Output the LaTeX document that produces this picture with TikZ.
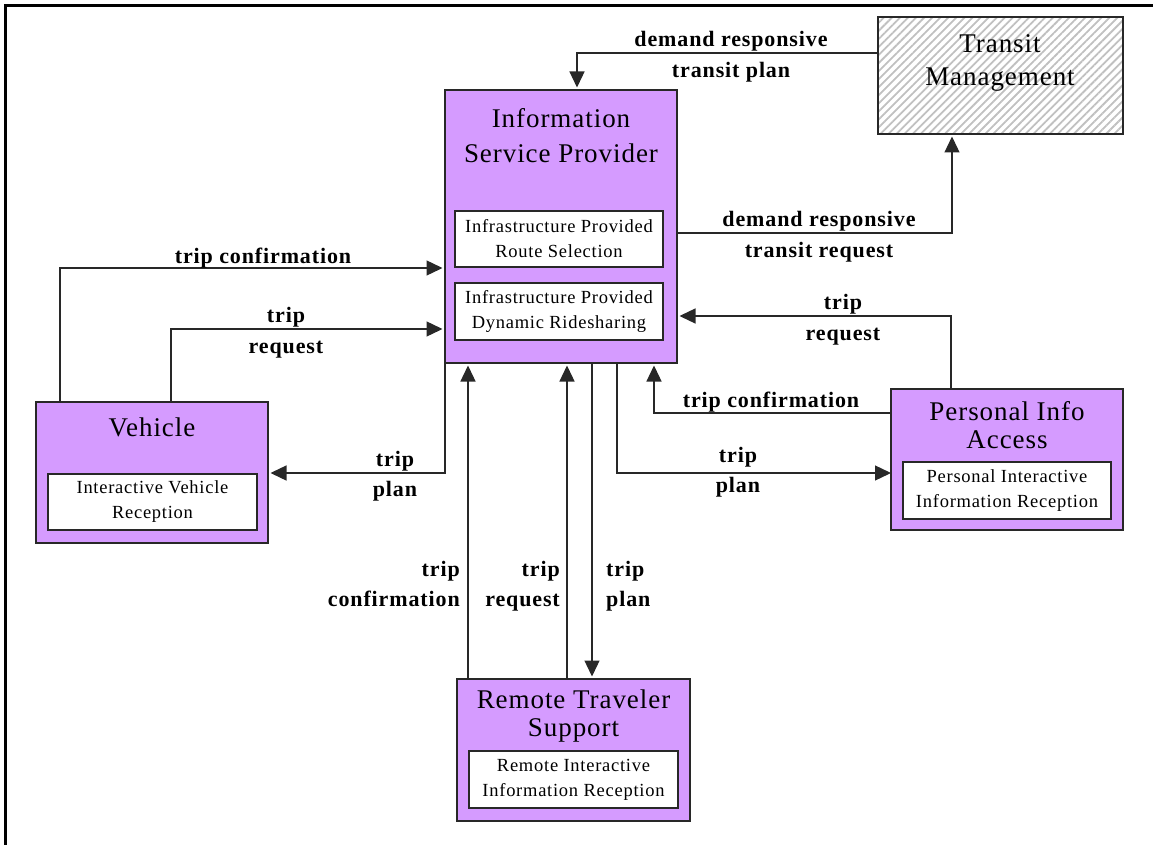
\documentclass[tikz,border=0pt]{standalone}
\usepackage{fontspec}
\setmainfont{Liberation Serif}
\usetikzlibrary{arrows.meta,patterns.meta}

\definecolor{boxfill}{RGB}{213,155,255}
\definecolor{edge}{RGB}{40,40,40}
\definecolor{hatch}{RGB}{192,192,192}

\tikzset{
  element/.style={draw=edge, line width=1.6pt, fill=boxfill, rectangle,
    anchor=north west, inner sep=0pt, outer sep=0pt},
  extbox/.style={draw=edge, line width=1.6pt, rectangle, anchor=north west,
    inner sep=0pt, outer sep=0pt,
    pattern={Lines[angle=45,distance=5.7pt,line width=1.8pt]}, pattern color=hatch},
  title/.style={align=center, inner sep=0pt},
  titlefont/.style={font=\fontsize{27}{#1}\selectfont\addfontfeatures{LetterSpace=3.5}},
  pspec/.style={draw=edge, line width=1.4pt, fill=white, rectangle,
    anchor=north west, inner sep=0pt, outer sep=0pt, align=center,
    font=\fontsize{18.5}{25}\selectfont\addfontfeatures{LetterSpace=4}},
  flow/.style={draw=edge, line width=1.3pt,
    -{Triangle[length=16pt,width=15pt]}, shorten >=2.5pt},
  flowlabel/.style={align=center, inner sep=0pt,
    font=\bfseries\fontsize{22}{30.5}\selectfont\addfontfeatures{LetterSpace=4}},
}

\begin{document}
\begin{tikzpicture}[x=1pt,y=-1pt]
\useasboundingbox (0,0) rectangle (1153,845);

% page frame (top and left edges)
\draw[line width=3pt] (1153,5.5) -- (5.5,5.5) -- (5.5,845);

% terminators
\node[extbox, minimum width=245pt, minimum height=117pt] (tm) at (878,17) {};
\node[title, titlefont=33] (tmtitle) at (1000,62.5) {Transit\\Management};

% subsystems
\node[element, minimum width=232pt, minimum height=273pt] (isp) at (445,90) {};
\node[title, titlefont=35] (isptitle) at (561,135.2) {Information\\Service Provider};
\node[pspec, minimum width=208pt, minimum height=56pt] (isp1) at (455,211)
  {Infrastructure Provided\\Route Selection};
\node[pspec, minimum width=208pt, minimum height=57pt] (isp2) at (455,283)
  {Infrastructure Provided\\Dynamic Ridesharing};

\node[element, minimum width=232pt, minimum height=141pt] (veh) at (36,402) {};
\node[title, titlefont=35] (vehtitle) at (152,427.8) {Vehicle};
\node[pspec, minimum width=209pt, minimum height=56pt] (veh1) at (48,474)
  {Interactive Vehicle\\Reception};

\node[element, minimum width=232pt, minimum height=141pt] (pia) at (891,389) {};
\node[title, titlefont=28] (piatitle) at (1007,424.8) {Personal Info\\Access};
\node[pspec, minimum width=208pt, minimum height=57pt] (pia1) at (903,462)
  {Personal Interactive\\Information Reception};

\node[element, minimum width=233pt, minimum height=142pt] (rts) at (457,679) {};
\node[title, titlefont=28] (rtstitle) at (573.5,715.8) {Remote Traveler\\Support};
\node[pspec, minimum width=209pt, minimum height=57pt] (rts1) at (469,751)
  {Remote Interactive\\Information Reception};

% flows
\draw[flow] ([yshift=-36pt]tm.north west) -| ([xshift=132pt]isp.north west);
\draw[flow] ([yshift=-143pt]isp.north east) -| ([xshift=74pt]tm.south west);
\draw[flow] ([xshift=24pt]veh.north west) |- ([yshift=-178pt]isp.north west);
\draw[flow] ([xshift=135pt]veh.north west) |- ([yshift=-239pt]isp.north west);
\draw[flow] (isp.south west) |- ([yshift=-71pt]veh.north east);
\draw[flow] ([xshift=11pt]rts.north west) -- ([xshift=23pt]isp.south west);
\draw[flow] ([xshift=110pt]rts.north west) -- ([xshift=122pt]isp.south west);
\draw[flow] ([xshift=147pt]isp.south west) -- ([xshift=135pt]rts.north west);
\draw[flow, shorten >=0pt] ([xshift=172pt]isp.south west) |- ([yshift=-84pt]pia.north west);
\draw[flow] ([yshift=-24pt]pia.north west) -| ([xshift=209pt]isp.south west);
\draw[flow] ([xshift=60pt]pia.north west) |- ([yshift=-226pt]isp.north east);

% flow labels
\node[flowlabel] (l1) at (731,56.5) {demand responsive\\transit plan};
\node[flowlabel] (l2) at (819,236.5) {demand responsive\\transit request};
\node[flowlabel] (l3) at (263,258) {trip confirmation};
\node[flowlabel] (l4) at (286,332.5) {trip\\request};
\node[flowlabel] (l5) at (395,476) {trip\\plan};
\node[flowlabel, align=right, anchor=east] (l6) at (460,584) {trip\\confirmation};
\node[flowlabel, align=right, anchor=east] (l7) at (560,586) {trip\\request};
\node[flowlabel, align=left, anchor=west] (l8) at (606,586) {trip\\plan};
\node[flowlabel] (l9) at (738,472) {trip\\plan};
\node[flowlabel] (l10) at (771,402) {trip confirmation};
\node[flowlabel] (l11) at (843,319.5) {trip\\request};
\end{tikzpicture}
\end{document}
